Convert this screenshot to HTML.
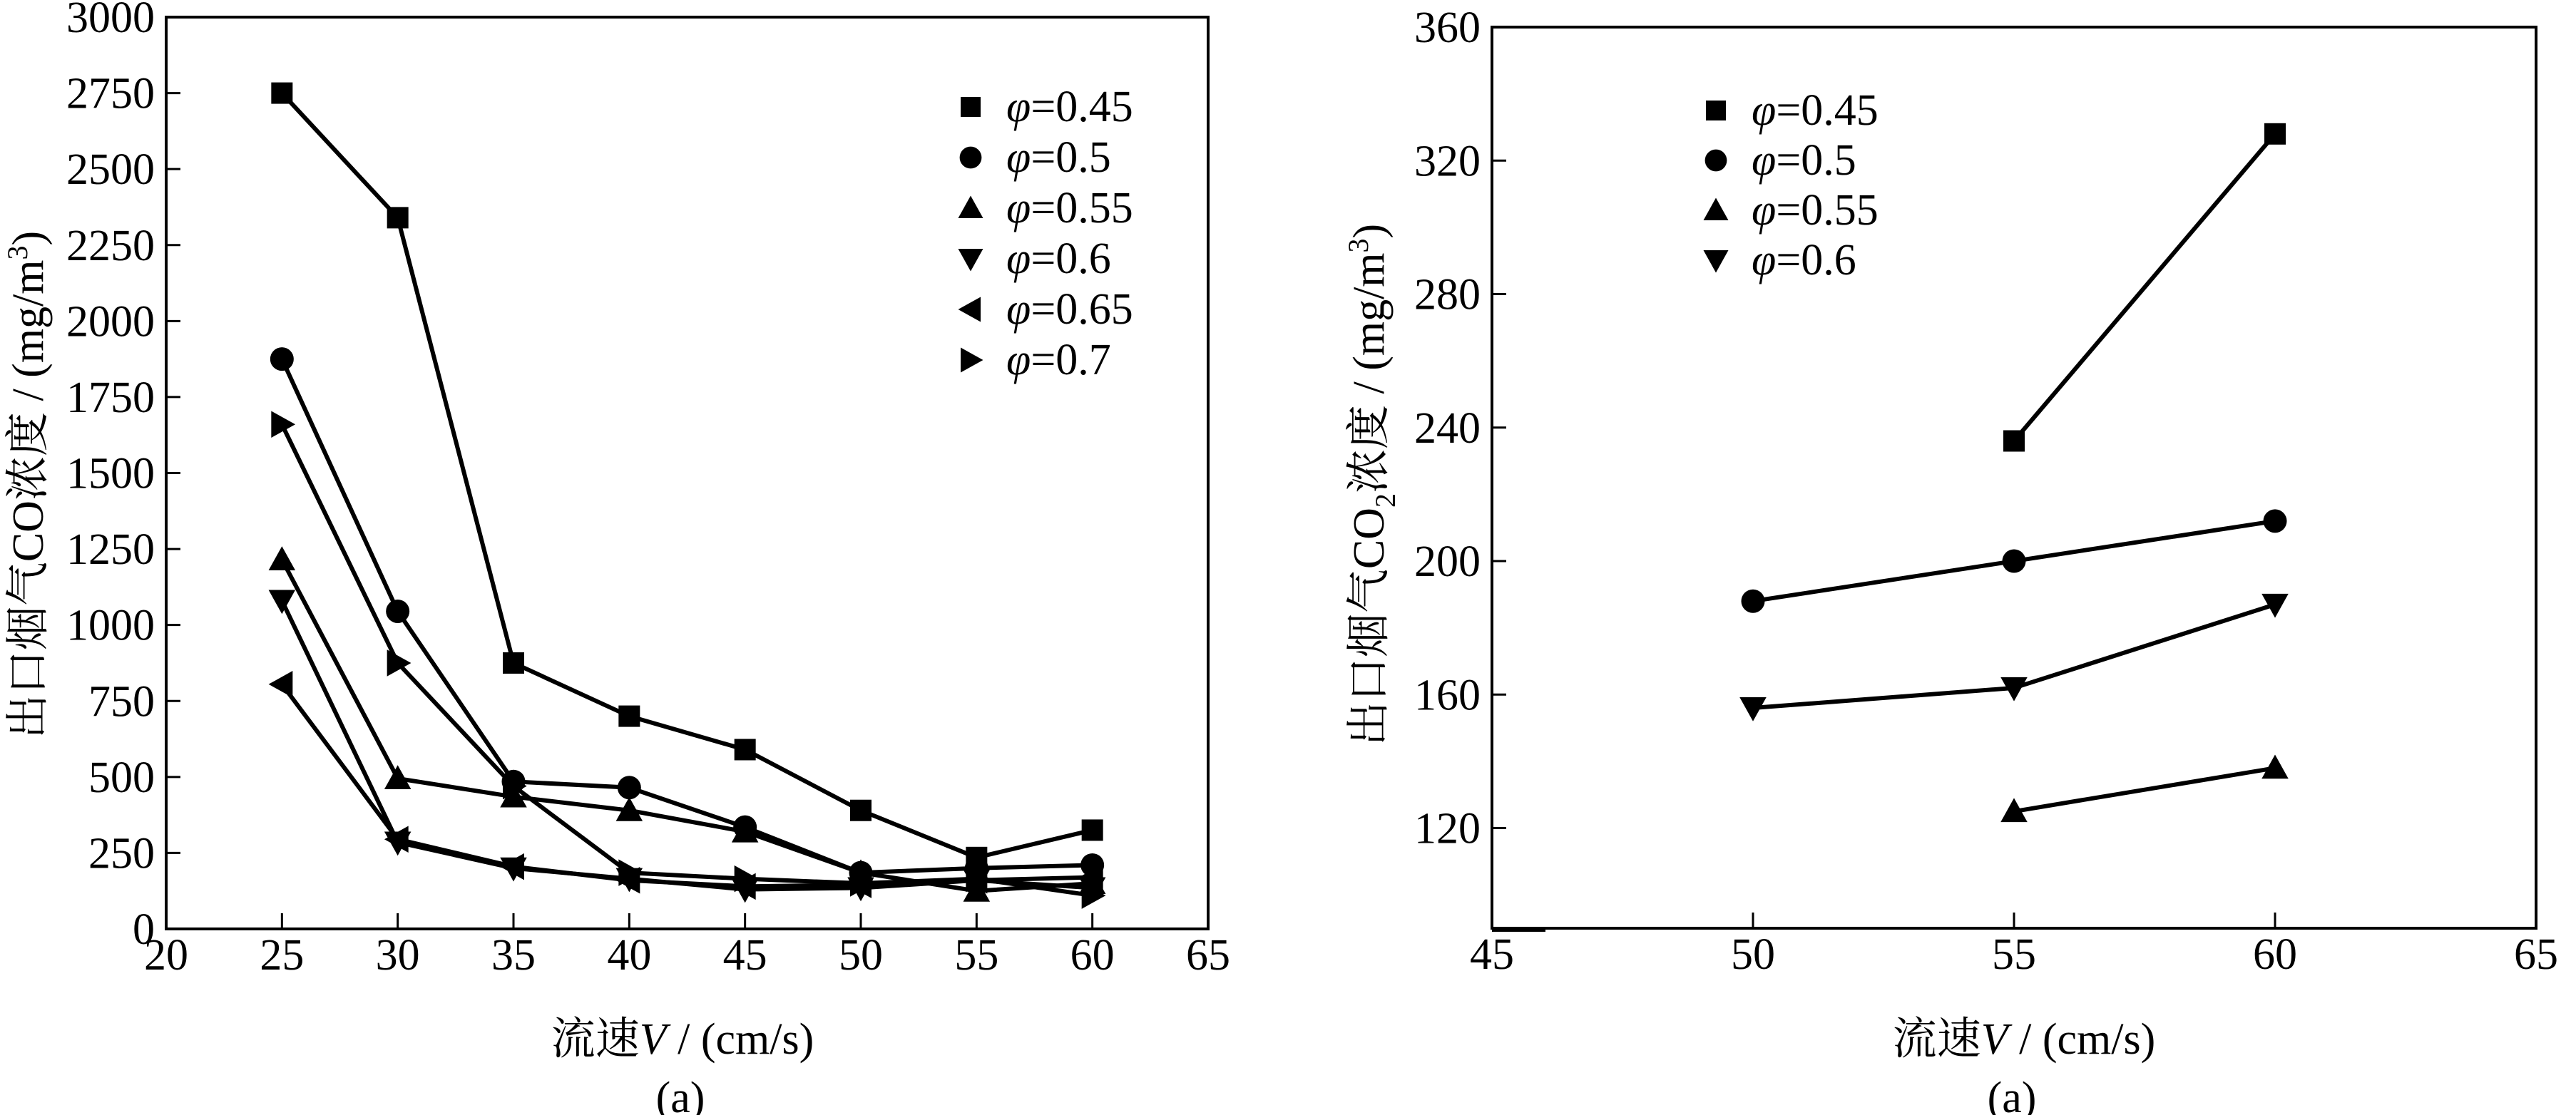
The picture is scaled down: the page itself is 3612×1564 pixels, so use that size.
<!DOCTYPE html>
<html><head><meta charset="utf-8">
<style>
html,body{margin:0;padding:0;background:#fff;}
svg{display:block;}
text{font-family:"Liberation Serif","Noto Serif CJK SC",serif;fill:#000;}
</style></head>
<body>
<svg id="chart" width="3612" height="1564" viewBox="0 0 3612 1564" xmlns="http://www.w3.org/2000/svg">
<g id="left"></g>
<g id="right"></g>
</svg>
<script>
const NS="http://www.w3.org/2000/svg";
// Left chart data
const leftX=[25,30,35,40,45,50,55,60];
const leftLabels=["φ=0.45","φ=0.5","φ=0.55","φ=0.6","φ=0.65","φ=0.7"];
const leftMarkers=["square","circle","up","down","left","right"];
const co45=[2750,2340,875,700,590,390,235,325];
const co50=[1875,1045,485,465,335,185,200,210];
const co55=[1215,495,435,390,320,185,125,150];
const co60=[1080,285,200,165,130,135,160,135];
const co65=[805,295,205,160,140,145,160,170];
const co70=[1660,875,470,185,165,150,165,110];
const leftXTicks=[20,25,30,35,40,45,50,55,60,65];
const leftYTicks=[0,250,500,750,1000,1250,1500,1750,2000,2250,2500,2750,3000];
// Right chart data
const rightLabels=["φ=0.45","φ=0.5","φ=0.55","φ=0.6"];
const rightMarkers=["square","circle","up","down"];
const co2x45=[55,60], co2y45=[236,328];
const co2x50=[50,55,60], co2y50=[188,200,212];
const co2x55=[55,60], co2y55=[125,138];
const co2x60=[50,55,60], co2y60=[156,162,187];
const rightXTicks=[45,50,55,60,65];
const rightYTicks=[120,160,200,240,280,320,360];

const FS=62;
function el(parent,tag,attrs){const e=document.createElementNS(NS,tag);for(const k in attrs)e.setAttribute(k,attrs[k]);parent.appendChild(e);return e;}
function marker(g,type,x,y,s){
  let e;
  if(type==="square"){e=el(g,"rect",{x:x-s,y:y-s,width:2*s,height:2*s,fill:"#000"});}
  else if(type==="circle"){e=el(g,"circle",{cx:x,cy:y,r:s*1.1,fill:"#000"});}
  else{
    const a=s*1.25;let p;
    if(type==="up")p=[[x,y-a],[x-a,y+a*0.8],[x+a,y+a*0.8]];
    if(type==="down")p=[[x,y+a],[x-a,y-a*0.8],[x+a,y-a*0.8]];
    if(type==="left")p=[[x-a,y],[x+a*0.8,y-a],[x+a*0.8,y+a]];
    if(type==="right")p=[[x+a,y],[x-a*0.8,y-a],[x-a*0.8,y+a]];
    e=el(g,"polygon",{points:p.map(q=>q.join(",")).join(" "),fill:"#000"});
  }
  
  
  return e;
}
function axes(g,L,R,T,B,sx,sy,xt,yt,pre){
  const f=el(g,"rect",{x:L,y:T,width:R-L,height:B-T,fill:"none",stroke:"#000","stroke-width":4});
  
  
  xt.forEach(v=>{const x=sx(v);
    el(g,"line",{x1:x,y1:B,x2:x,y2:B-22,stroke:"#000","stroke-width":3});
    const t=el(g,"text",{x:x,y:B+57,"font-size":FS,"text-anchor":"middle"});t.textContent=v;
    
    });
  yt.forEach(v=>{const y=sy(v);
    el(g,"line",{x1:L,y1:y,x2:L+20,y2:y,stroke:"#000","stroke-width":3});
    const t=el(g,"text",{x:L-16,y:y+21,"font-size":FS,"text-anchor":"end"});t.textContent=v;
    
    });
}
function series(g,xs,ys,sx,sy,m,name){
  const s=el(g,"g",{});
  
  
  el(s,"polyline",{points:xs.map((x,i)=>sx(x)+","+sy(ys[i])).join(" "),fill:"none",stroke:"#000","stroke-width":6});
  xs.forEach((x,i)=>marker(s,m,sx(x),sy(ys[i]),15));
}
function legend(g,labels,markers,x,y0,dy,pre){
  labels.forEach((lab,i)=>{const y=y0+i*dy;
    const lg=el(g,"g",{});
    
    
    marker(lg,markers[i],x,y,14);
    const t=el(lg,"text",{x:x+50,y:y+20,"font-size":FS});
    const it=el(t,"tspan",{"font-style":"italic"});it.textContent="φ";
    const r=el(t,"tspan",{});r.textContent=lab.slice(1);});
}
// Left
(function(){
  const g=document.getElementById("left");
  const L=233,R=1694,T=24,B=1303;
  const sx=v=>L+(v-20)/45*(R-L), sy=v=>B-v/3000*(B-T);
  axes(g,L,R,T,B,sx,sy,leftXTicks,leftYTicks,"left-");
  const all=[co45,co50,co55,co60,co65,co70];
  all.forEach((ys,i)=>series(g,leftX,ys,sx,sy,leftMarkers[i],"series-"+leftLabels[i].slice(2)));
  legend(g,leftLabels,leftMarkers,1361,150,71,"left-");
  const yt=el(g,"text",{transform:"translate(60,680) rotate(-90)","font-size":FS,"text-anchor":"middle"});
  yt.innerHTML='出口烟气CO浓度 / (mg/m<tspan dy="-22" font-size="40">3</tspan><tspan dy="22">)</tspan>';
  
  
  const xt=el(g,"text",{x:957,y:1478,"font-size":FS,"text-anchor":"middle"});
  xt.innerHTML='流速<tspan font-style="italic">V</tspan> / (cm/s)';
  
  
  const c=el(g,"text",{x:954,y:1560,"font-size":FS,"text-anchor":"middle"});c.textContent="(a)";
  
  
})();
// Right
(function(){
  const g=document.getElementById("right");
  const L=2092,R=3556,T=38,B=1302;
  const pyr=(B-T)/270;
  const sx=v=>L+(v-45)/20*(R-L), sy=v=>T+(360-v)*pyr;
  axes(g,L,R,T,B,sx,sy,rightXTicks,rightYTicks,"right-");
  el(g,"line",{x1:L,y1:B+2,x2:L+75,y2:B+2,stroke:"#000","stroke-width":6});
  series(g,co2x45,co2y45,sx,sy,"square","series-0.45");
  series(g,co2x50,co2y50,sx,sy,"circle","series-0.5");
  series(g,co2x55,co2y55,sx,sy,"up","series-0.55");
  series(g,co2x60,co2y60,sx,sy,"down","series-0.6");
  legend(g,rightLabels,rightMarkers,2406,155,70,"right-");
  const yt=el(g,"text",{transform:"translate(1940,680) rotate(-90)","font-size":FS,"text-anchor":"middle"});
  yt.innerHTML='出口烟气CO<tspan dy="16" font-size="40">2</tspan><tspan dy="-16">浓度 / (mg/m</tspan><tspan dy="-22" font-size="40">3</tspan><tspan dy="22">)</tspan>';
  
  
  const xt=el(g,"text",{x:2838,y:1478,"font-size":FS,"text-anchor":"middle"});
  xt.innerHTML='流速<tspan font-style="italic">V</tspan> / (cm/s)';
  
  
  const c=el(g,"text",{x:2821,y:1560,"font-size":FS,"text-anchor":"middle"});c.textContent="(a)";
  
  
})();
</script>
</body></html>
